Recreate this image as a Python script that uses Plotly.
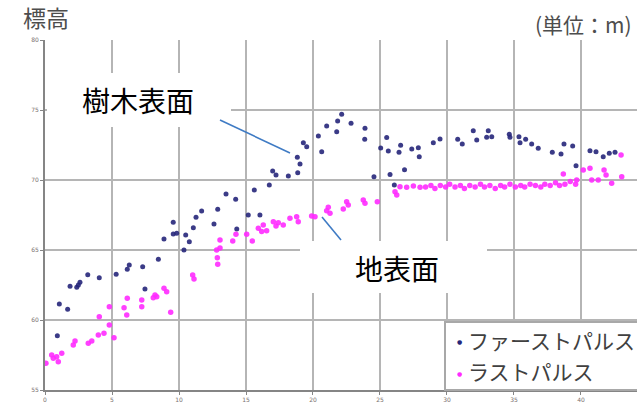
import plotly.graph_objects as go

# First-pulse (canopy surface) elevations: distance along profile, elevation
first_x = [0.92, 1.07, 1.69, 1.87, 2.37, 2.49, 2.61, 3.19, 4.05, 5.31, 6.14, 6.29, 7.29, 7.46,
           8.46, 8.88, 9.57, 9.83, 10.5, 10.77, 10.37, 11.07, 9.57, 11.27, 11.69, 12.61, 12.89,
           13.51, 14.23, 14.31, 15.17, 16.04, 15.62, 16.74, 16.99, 17.24, 18.16, 18.86, 18.83,
           19.03, 19.28, 19.53, 20.4, 20.65, 21.02, 21.84, 22.14, 21.77, 22.84, 23.88, 23.86,
           24.55, 25.05, 25.5, 25.62, 25.75, 26.07, 26.42, 26.54, 26.83, 27.37, 27.86, 27.93,
           28.98, 29.48, 30.8, 31.14, 31.96, 32.22, 33.08, 32.96, 33.34, 34.65, 34.7, 35.37,
           35.45, 35.87, 36.32, 36.81, 37.86, 38.51, 38.73, 39.38, 39.63, 40.67, 41.12, 41.66,
           42.11, 42.54]
first_y = [58.88, 61.14, 60.76, 62.41, 62.34, 62.5, 62.69, 63.24, 63.02, 63.26, 63.62, 63.93,
           63.81, 62.21, 64.34, 65.79, 66.14, 66.19, 66.07, 65.59, 65.0, 66.59, 66.98, 67.34,
           67.79, 66.86, 67.91, 69.0, 68.62, 66.5, 67.5, 67.5, 69.29, 69.64, 70.64, 70.36,
           70.29, 70.52, 71.62, 71.14, 72.66, 72.38, 73.14, 72.02, 73.86, 74.21, 74.69, 73.45,
           74.05, 73.69, 72.91, 70.24, 72.29, 73.04, 72.07, 70.39, 69.64, 71.98, 72.48, 70.74,
           72.21, 72.31, 71.66, 72.66, 72.93, 72.91, 72.57, 73.52, 72.86, 73.52, 73.05, 73.09,
           73.26, 73.05, 73.09, 72.66, 72.91, 72.57, 72.26, 71.98, 71.86, 72.57, 72.43, 71.02,
           72.09, 72.02, 71.66, 71.91, 71.98]

# Last-pulse (ground surface) elevations
last_x = [0.07, 0.5, 0.62, 0.87, 0.99, 1.25, 2.11, 2.24, 3.23, 3.49, 3.98, 4.4, 4.8, 5.15,
          4.05, 4.8, 5.9, 6.14, 6.1, 7.22, 7.22, 8.21, 8.34, 8.08, 8.88, 9.08, 9.38, 11.02,
          11.12, 12.81, 12.86, 12.89, 13.06, 13.06, 14.01, 14.25, 15.05, 15.47, 15.92, 16.17,
          16.29, 16.54, 17.04, 17.24, 17.41, 17.78, 18.28, 18.78, 18.9, 19.9, 20.15, 21.02,
          21.27, 21.14, 22.26, 22.63, 22.51, 23.75, 23.88, 24.8, 26.12, 26.25, 26.49, 26.99,
          27.49, 27.99, 28.4, 28.8, 29.1, 29.5, 29.9, 30.2, 30.6, 31.0, 31.3, 31.7, 32.1, 32.5,
          32.8, 33.2, 33.6, 34.0, 34.3, 34.7, 35.1, 35.5, 35.8, 36.2, 36.6, 37.0, 37.3, 37.7,
          38.1, 38.4, 38.8, 39.2, 39.6, 38.68, 39.68, 40.17, 40.67, 40.8, 41.29, 41.72, 41.87,
          42.29, 43.04, 42.99]
last_y = [56.91, 57.5, 57.26, 57.38, 57.02, 57.62, 58.21, 58.5, 58.34, 58.5, 58.93, 59.05,
          59.64, 58.74, 60.24, 60.95, 60.88, 61.55, 60.36, 61.43, 60.95, 61.79, 61.66, 61.59,
          62.26, 62.02, 60.55, 63.21, 62.93, 65.0, 64.45, 63.98, 65.71, 65.14, 65.64, 66.12,
          66.12, 65.64, 66.55, 66.32, 66.79, 66.38, 67.02, 66.71, 66.95, 66.79, 67.26, 67.38,
          67.02, 67.43, 67.38, 67.81, 67.62, 68.05, 67.93, 68.21, 68.45, 68.57, 68.34, 68.45,
          69.16, 68.93, 69.52, 69.48, 69.57, 69.48, 69.5, 69.6, 69.4, 69.6, 69.5, 69.7, 69.5,
          69.6, 69.4, 69.6, 69.5, 69.7, 69.5, 69.6, 69.4, 69.6, 69.5, 69.7, 69.5, 69.6, 69.5,
          69.7, 69.6, 69.5, 69.7, 69.6, 69.8, 69.6, 69.7, 69.9, 69.7, 70.43, 70.0, 70.71, 70.84,
          70.0, 70.0, 70.71, 70.36, 69.76, 70.24, 71.79]

x_ticks = [0, 5, 10, 15, 20, 25, 30, 35, 40]
y_ticks = [55, 60, 65, 70, 75, 80]

series_names = ["ファーストパルス", "ラストパルス"]
BLUE = "#26267a"
PINK = "#ff2bff"

W, H = 637, 406
L, R, T, B = 45, 637, 40, 390  # plot box in pixels


def fx(px):
    return (px - L) / (R - L)


def fy(py):
    return (B - py) / (B - T)


fig = go.Figure()
fig.add_trace(go.Scatter(x=first_x, y=first_y, mode="markers", name=series_names[0],
                         marker=dict(color=BLUE, size=5, opacity=0.9), showlegend=False))
fig.add_trace(go.Scatter(x=last_x, y=last_y, mode="markers", name=series_names[1],
                         marker=dict(color=PINK, size=5.5, opacity=0.9), showlegend=False))

grid = "#b5b5b5"
axis_line = "#858585"
tick_font = dict(family="DejaVu Sans", size=6, color="#7a7070")

fig.update_xaxes(range=[0, 44.18], tickvals=x_ticks, ticktext=[str(v) for v in x_ticks],
                 showgrid=True, gridcolor=grid, gridwidth=2, zeroline=False,
                 showline=True, linecolor=axis_line, linewidth=2,
                 ticks="outside", ticklen=3, tickcolor=axis_line, tickfont=tick_font)
fig.update_yaxes(range=[55, 80], tickvals=y_ticks, ticktext=[str(v) for v in y_ticks],
                 showgrid=True, gridcolor=grid, gridwidth=2, zeroline=False,
                 showline=True, linecolor=axis_line, linewidth=2,
                 ticks="outside", ticklen=3, tickcolor=axis_line, tickfont=tick_font)

jp = "Noto Sans CJK JP"
shapes = [
    # white panels behind callout labels
    dict(type="rect", xref="paper", yref="paper", x0=fx(47), x1=fx(231), y0=fy(127), y1=fy(73),
         fillcolor="white", line=dict(width=0), layer="above"),
    dict(type="rect", xref="paper", yref="paper", x0=fx(300), x1=fx(487), y0=fy(293), y1=fy(241),
         fillcolor="white", line=dict(width=0), layer="above"),
    # leader lines
    dict(type="line", xref="paper", yref="paper", x0=fx(220), y0=fy(120), x1=fx(290), y1=fy(153),
         line=dict(color="#3f7bc4", width=1.6), layer="above"),
    dict(type="line", xref="paper", yref="paper", x0=fx(322), y0=fy(217), x1=fx(341), y1=fy(240),
         line=dict(color="#3f7bc4", width=1.6), layer="above"),
    # legend panel
    dict(type="rect", xref="paper", yref="paper", x0=fx(445), x1=fx(660), y0=fy(390), y1=fy(322),
         fillcolor="white", line=dict(color="#a8a8a8", width=2), layer="above"),
]

annotations = [
    dict(text="標高", x=fx(21), y=fy(17), xanchor="left", yanchor="middle",
         font=dict(family=jp, size=23, color="#4d4d4d")),
    dict(text="(単位：m)", x=fx(533), y=fy(24), xanchor="left", yanchor="middle",
         font=dict(family=jp, size=21, color="#4d4d4d")),
    dict(text="樹木表面", x=fx(80), y=fy(100), xanchor="left", yanchor="middle",
         font=dict(family=jp, size=28, color="#000000")),
    dict(text="地表面", x=fx(353), y=fy(268), xanchor="left", yanchor="middle",
         font=dict(family=jp, size=28, color="#000000")),
    dict(text="●", x=fx(459), y=fy(341), xanchor="center", yanchor="middle",
         font=dict(family="DejaVu Sans", size=6, color=BLUE)),
    dict(text="●", x=fx(459), y=fy(373), xanchor="center", yanchor="middle",
         font=dict(family="DejaVu Sans", size=6, color=PINK)),
    dict(text=series_names[0], x=fx(466), y=fy(340), xanchor="left", yanchor="middle",
         font=dict(family=jp, size=21, color="#404040")),
    dict(text=series_names[1], x=fx(466), y=fy(371), xanchor="left", yanchor="middle",
         font=dict(family=jp, size=21, color="#404040")),
]
for a in annotations:
    a.update(xref="paper", yref="paper", showarrow=False)

fig.update_layout(
    width=W, height=H,
    margin=dict(l=L, r=W - R, t=T, b=H - B),
    plot_bgcolor="white", paper_bgcolor="white",
    shapes=shapes, annotations=annotations,
    showlegend=False,
)

fig.write_html("out.html")
